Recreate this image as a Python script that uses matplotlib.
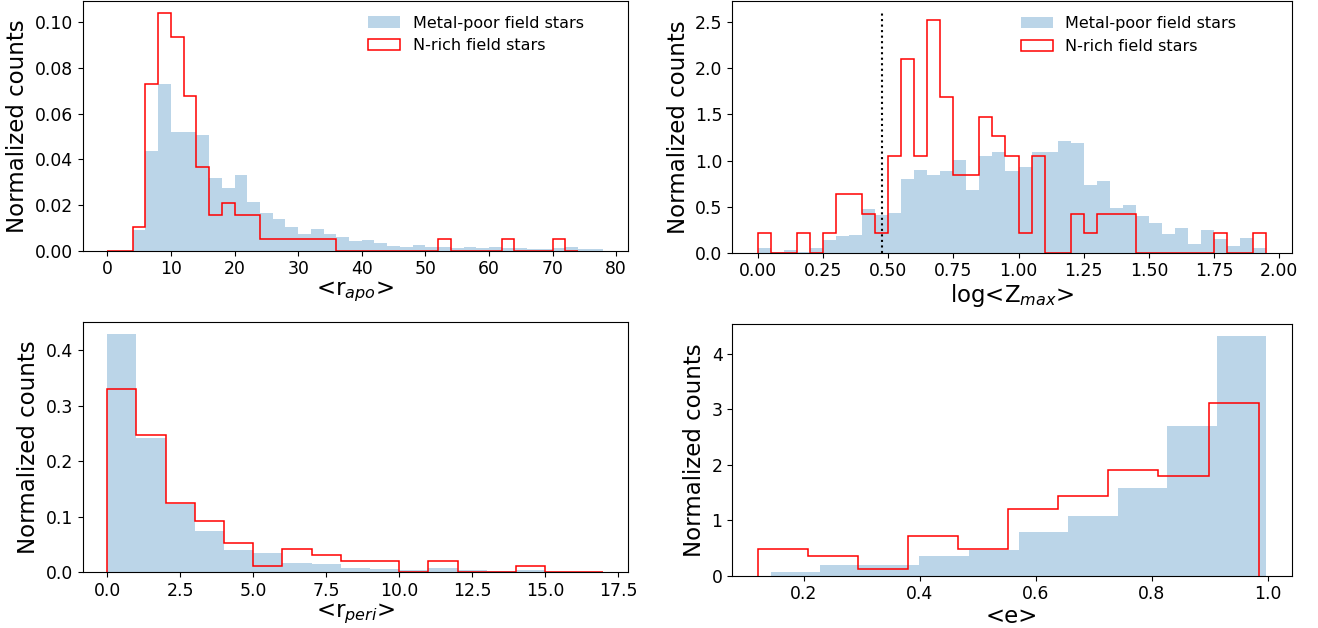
import numpy as np
import matplotlib
matplotlib.use("Agg")
import matplotlib.pyplot as plt
from matplotlib.patches import Patch

# ---------------- data (normalized counts) ----------------
# Panel 1: <r_apo>
rapo_mp_edges = np.arange(4, 78 + 1, 2)
rapo_mp = [0.0090, 0.0435, 0.0730, 0.0520, 0.0520, 0.0506, 0.0318, 0.0274, 0.0331,
           0.0215, 0.0165, 0.0139, 0.0104, 0.0073, 0.0095, 0.0073, 0.0058, 0.0042,
           0.0048, 0.0033, 0.0020, 0.0016, 0.0025, 0.0016, 0.0016, 0.0012, 0.0016,
           0.0012, 0.0016, 0.0012, 0.0012, 0.0007, 0.0007, 0.0012, 0.0016, 0.0006,
           0.0007]
rapo_nr_edges = np.arange(0, 74 + 1, 2)
rapo_nr = [0, 0, 0.0104, 0.0729, 0.1042, 0.0938, 0.0677, 0.0365, 0.0156, 0.0208,
           0.0156, 0.0156, 0.0052, 0.0052, 0.0052, 0.0052, 0.0052, 0.0052,
           0, 0, 0, 0, 0, 0, 0, 0, 0.0052, 0, 0, 0, 0, 0.0052, 0, 0, 0, 0.0052, 0]

# Panel 2: log<Z_max>
zmax_edges = np.round(np.arange(0, 1.95 + 0.001, 0.05), 2)
zmax_mp = [0.047, 0.011, 0.029, 0.011, 0.047, 0.137, 0.181, 0.190, 0.474, 0.405,
           0.430, 0.800, 0.897, 0.842, 0.886, 1.005, 0.680, 1.048, 1.092, 0.886,
           0.929, 1.092, 1.092, 1.211, 1.189, 0.734, 0.777, 0.484, 0.517, 0.394,
           0.318, 0.199, 0.264, 0.094, 0.246, 0.148, 0.069, 0.159, 0.047]
zmax_nr = [0.2105, 0, 0, 0.2105, 0, 0.2105, 0.6316, 0.6316, 0.4211, 0.2105,
           1.0526, 2.1053, 1.0526, 2.5263, 1.6842, 0.8421, 0.8421, 1.4737, 1.2632,
           1.0526, 0.2105, 1.0526, 0, 0, 0.4211, 0.2105, 0.4211, 0.4211, 0.4211,
           0, 0, 0, 0, 0, 0, 0.2105, 0, 0, 0.2105]
zmax_cut = np.log10(3.0)
zmax_cut_top = 2.6

# Panel 3: <r_peri>
rperi_edges = np.arange(0, 17 + 1, 1)
rperi_mp = [0.4295, 0.2420, 0.1235, 0.0740, 0.0398, 0.0343, 0.0157, 0.0145, 0.0072,
            0.0054, 0.0030, 0.0072, 0.0036, 0.0012, 0.0030, 0.0006, 0.0006]
rperi_nr = [0.3299, 0.2474, 0.1237, 0.0928, 0.0515, 0.0103, 0.0412, 0.0309, 0.0206,
            0.0206, 0, 0.0206, 0, 0, 0.0103, 0, 0]

# Panel 4: <e>
ecc_mp_range = (0.1437, 0.9969)
ecc_mp = [0.072, 0.198, 0.198, 0.360, 0.468, 0.792, 1.080, 1.584, 2.700, 4.320]
ecc_nr_range = (0.1211, 0.9837)
ecc_nr = [0.478, 0.358, 0.119, 0.717, 0.478, 1.195, 1.434, 1.912, 1.792, 3.107]

label_mp = "Metal-poor field stars"
label_nr = "N-rich field stars"
ylabel = "Normalized counts"

# ---------------- figure ----------------
W, H = 1318, 628
fig = plt.figure(figsize=(W / 100, H / 100), dpi=100)


def add_axes_px(left, right, top, bottom):
    return fig.add_axes([left / W, 1 - bottom / H, (right - left) / W, (bottom - top) / H])


ax1 = add_axes_px(82.5, 628.3, 1.0, 250.7)
ax2 = add_axes_px(732.3, 1291.7, 1.0, 252.7)
ax3 = add_axes_px(82.5, 628.3, 322.0, 572.0)
ax4 = add_axes_px(732.3, 1291.7, 324.3, 575.7)

blue = "C0"
red = "red"
LABEL_FS = 16.5
TICK_FS = 12.4
LEG_FS = 11.5


def draw(ax, mp_edges, mp_vals, nr_edges, nr_vals, xlabel, legend_px=None):
    mp_edges = np.asarray(mp_edges, dtype=float)
    ax.bar(mp_edges[:-1], mp_vals, width=np.diff(mp_edges), align="edge",
           color=blue, alpha=0.3, linewidth=0)
    ax.stairs(nr_vals, nr_edges, color=red, linewidth=1.1, baseline=0, fill=False)
    ax.set_xlabel(xlabel, fontsize=LABEL_FS, labelpad=1)
    ax.set_ylabel(ylabel, fontsize=LABEL_FS)
    ax.tick_params(labelsize=TICK_FS)
    ax.set_ylim(bottom=0)
    if legend_px is not None:
        handles = [Patch(facecolor=blue, alpha=0.3, linewidth=0),
                   Patch(facecolor="none", edgecolor=red, linewidth=1.1)]
        ax.legend(handles, [label_mp, label_nr], loc="center left", frameon=False,
                  fontsize=LEG_FS, borderaxespad=0,
                  bbox_to_anchor=(legend_px[0] / W, 1 - legend_px[1] / H),
                  bbox_transform=fig.transFigure)


draw(ax1, rapo_mp_edges, rapo_mp, rapo_nr_edges, rapo_nr, "<r$_{apo}$>",
     legend_px=(362.0, 34.5))
ax1.set_xlim(-3.9, 81.9)
ax1.set_yticks([0.00, 0.02, 0.04, 0.06, 0.08, 0.10])
ax1.yaxis.set_major_formatter(matplotlib.ticker.FormatStrFormatter("%.2f"))

ax2.vlines(zmax_cut, 0, zmax_cut_top, colors="k", linestyles=":", linewidth=1.5)
draw(ax2, zmax_edges, zmax_mp, zmax_edges, zmax_nr, "log<Z$_{max}$>",
     legend_px=(1014.3, 35.0))
ax2.set_ylim(0, 2.73)
ax2.set_xlim(-0.0975, 2.0475)
ax2.set_xticks([0, 0.25, 0.5, 0.75, 1.0, 1.25, 1.5, 1.75, 2.0])
ax2.xaxis.set_major_formatter(matplotlib.ticker.FormatStrFormatter("%.2f"))

draw(ax3, rperi_edges, rperi_mp, rperi_edges, rperi_nr, "<r$_{peri}$>")
ax3.set_xlim(-0.85, 17.85)

ecc_mp_edges = np.linspace(ecc_mp_range[0], ecc_mp_range[1], len(ecc_mp) + 1)
ecc_nr_edges = np.linspace(ecc_nr_range[0], ecc_nr_range[1], len(ecc_nr) + 1)
draw(ax4, ecc_mp_edges, ecc_mp, ecc_nr_edges, ecc_nr, "<e>")

fig.savefig("out.png", dpi=100)
